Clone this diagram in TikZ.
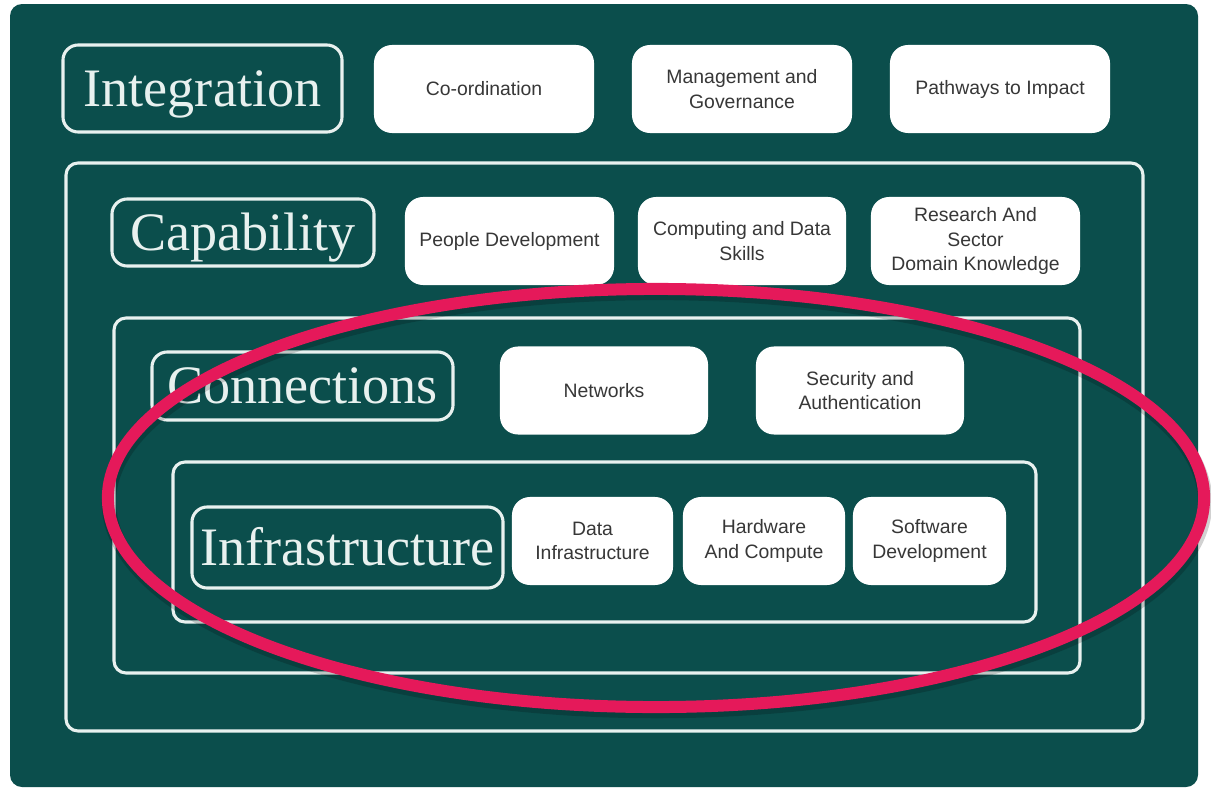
\documentclass[tikz,border=0pt]{standalone}
\usepackage{fontspec}
\setmainfont{Liberation Serif}
\newfontfamily\boxfont{Liberation Sans}
\usetikzlibrary{calc}

\definecolor{teal}{RGB}{11,78,76}
\definecolor{pale}{RGB}{232,241,239}
\definecolor{boxtext}{RGB}{55,55,55}
\definecolor{ring}{RGB}{229,25,90}

\tikzset{
 frame/.style={draw=pale, line width=2.2pt, rounded corners=0.3cm},
 layer/.style={draw=pale, line width=2.2pt, rounded corners=0.38cm, text=pale, inner sep=0pt,
   text height=25.5pt, text depth=0pt, font=\fontsize{38.5}{44}\selectfont},
 item/.style={fill=white, rounded corners=0.45cm, text=boxtext, align=center, inner sep=0pt,
   minimum height=2.2cm, font=\boxfont\fontsize{13.8}{17.6}\selectfont},
}

\begin{document}
\begin{tikzpicture}[x=0.025cm, y=-0.025cm]
\useasboundingbox (0,0) rectangle (1211,789);
\fill[white] (0,0) rectangle (1211,789);
\fill[teal, rounded corners=0.3cm] (10,4) rectangle (1198,787);

% nested frames
\draw[frame] (66,163) rectangle (1143,731);
\draw[frame] (114,318) rectangle (1080,673);
\draw[frame] (173,462) rectangle (1036,622);

% integration row
\node[layer, minimum width=6.975cm, minimum height=2.175cm] (integ) at (202.5,88.5) {Integration};
\node[item, minimum width=5.5cm] (coord) at (484,89) {Co-ordination};
\node[item, minimum width=5.5cm] (manage) at (742,89) {Management and\\Governance};
\node[item, minimum width=5.5cm] (impact) at (1000,89) {Pathways to Impact};

% capability row
\node[layer, minimum width=6.55cm, minimum height=1.675cm] (capab) at (243,232.5) {Capability};
\node[item, minimum width=5.225cm] (people) at (509.5,241) {People Development};
\node[item, minimum width=5.2cm] (skills) at (742,241) {Computing and Data\\Skills};
\node[item, minimum width=5.225cm] (domain) at (975.5,241) {Research And\\Sector\\Domain Knowledge};

% connections row
\node[layer, minimum width=7.525cm, minimum height=1.7cm] (conn) at (302.5,386) {Connections};
\node[item, minimum width=5.2cm] (networks) at (604,390.5) {Networks};
\node[item, minimum width=5.2cm] (security) at (860,390.5) {Security and\\Authentication};

% infrastructure row
\node[layer, minimum width=7.775cm, minimum height=2.025cm] (infra) at (347.5,547.5) {Infrastructure};
\node[item, minimum width=4.025cm] (datainf) at (592.5,541) {Data\\Infrastructure};
\node[item, minimum width=4.05cm] (hardware) at (764,541) {Hardware\\And Compute};
\node[item, minimum width=3.825cm] (software) at (929.5,541) {Software\\Development};

% highlight ring
\draw[black, opacity=0.18, line width=0.36cm] (657,502) ellipse [x radius=13.7cm, y radius=5.225cm];
\draw[ring, line width=0.3cm] (656,498) ellipse [x radius=13.7cm, y radius=5.225cm];
\end{tikzpicture}
\end{document}
